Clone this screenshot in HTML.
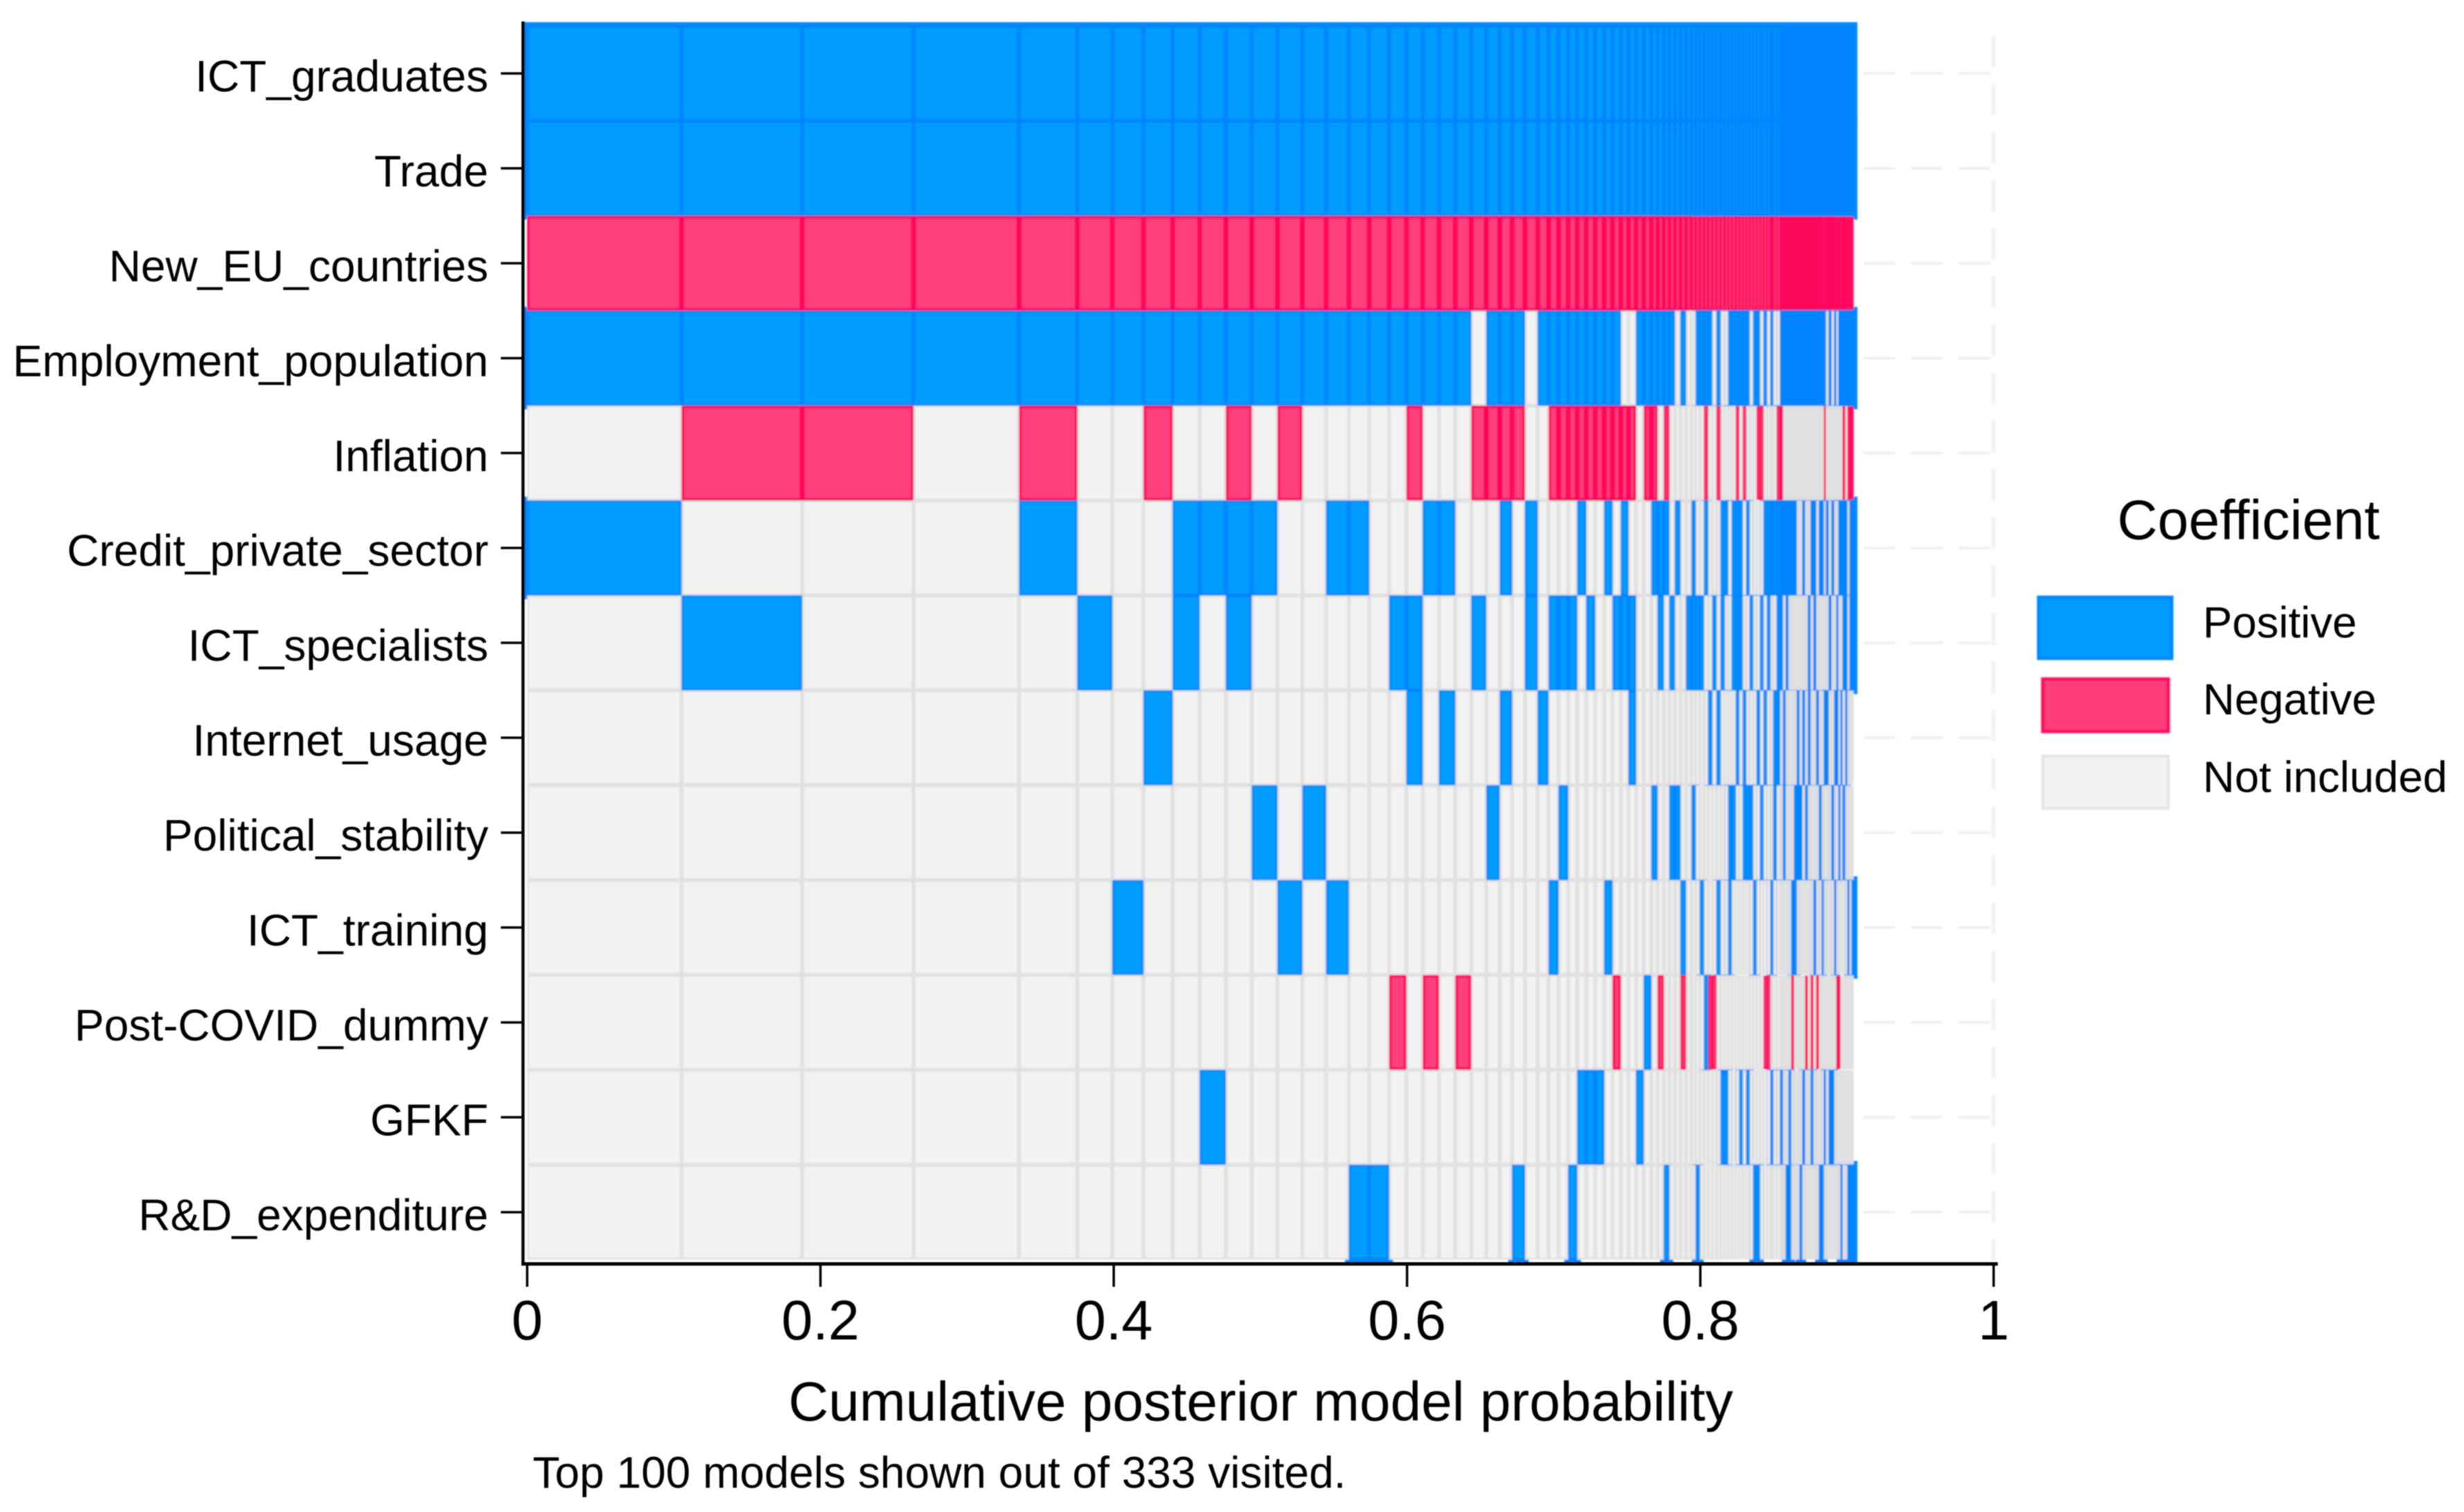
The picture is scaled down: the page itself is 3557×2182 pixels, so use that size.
<!DOCTYPE html>
<html lang="en">
<head>
<meta charset="utf-8">
<title>Cumulative posterior model probability</title>
<style>
  html, body { margin: 0; padding: 0; background: #fff; }
  svg { display: block; font-family: "Liberation Sans", Arial, sans-serif; fill: #000; }
</style>
</head>
<body>
<svg id="chart" xmlns="http://www.w3.org/2000/svg" width="3557" height="2182" viewBox="0 0 3557 2182">
  <defs>
    <filter id="soft" filterUnits="userSpaceOnUse" x="0" y="0" width="3557" height="2182"><feGaussianBlur stdDeviation="1.0"/></filter>
    <filter id="softText" filterUnits="userSpaceOnUse" x="0" y="0" width="3557" height="2182"><feGaussianBlur stdDeviation="0.7"/></filter>
  </defs>
  <rect width="3557" height="2182" fill="#ffffff"/>
  <g id="ghostGrid" filter="url(#soft)"></g>
  <g id="cells" filter="url(#soft)"></g>
  <g id="axes" filter="url(#softText)"></g>
  <g filter="url(#softText)">
    <text x="1820" y="2050" font-size="80.2" text-anchor="middle">Cumulative posterior model probability</text>
    <text x="769" y="2147" font-size="64">Top 100 models shown out of 333 visited.</text>
    <text x="3246" y="778" font-size="80.5" text-anchor="middle">Coefficient</text>
    <text x="3180" y="920" font-size="63.5">Positive</text>
    <text x="3180" y="1031" font-size="63.5">Negative</text>
    <text x="3180" y="1143" font-size="63.5">Not included</text>
  </g>
  <g filter="url(#soft)">
    <rect x="2943" y="862" width="192" height="88" fill="#009BFF" stroke="#0086FF" stroke-width="5"/>
    <rect x="2949" y="980" width="181" height="75.5" fill="#FF3D7A" stroke="#FF0A5C" stroke-width="5"/>
    <rect x="2949" y="1091" width="181" height="75.5" fill="#F2F2F2" stroke="#E3E3E3" stroke-width="4"/>
  </g>
</svg>
<script>
// Posterior probability of each of the top 100 models (rank order)
const modelProb = [
  0.1053,0.0822,0.0759,0.0720,0.0397,0.0239,0.0213,0.0199,0.0184,0.0178,
  0.0177,0.0175,0.0170,0.0162,0.0155,0.0139,0.0136,0.0118,0.0111,0.0111,
  0.0111,0.0109,0.0102,0.0092,0.0084,0.0088,0.0087,0.0074,0.0068,0.0066,
  0.00614,0.00614,0.00614,0.00614,0.00567,0.00567,0.0052,0.0052,0.0052,0.0052,
  0.00425,0.00425,0.00378,0.00378,0.00378,0.00378,0.00378,0.00283,0.00283,0.00283,
  0.00283,0.00283,0.00283,0.00283,0.00283,0.00236,0.00236,0.00283,0.00236,0.00236,
  0.00236,0.00236,0.00236,0.00236,0.00236,0.00236,0.00236,0.00236,0.00189,0.00236,
  0.00236,0.00189,0.00189,0.00189,0.00189,0.00189,0.00189,0.00189,0.00189,0.00189,
  0.00189,0.00189,0.00189,0.00189,0.00189,0.00189,0.00142,0.00142,0.00189,0.00189,
  0.00189,0.00142,0.00142,0.00142,0.00142,0.00189,0.00142,0.00142,0.00142,0.00142
];

const variables = ["ICT_graduates","Trade","New_EU_countries","Employment_population","Inflation","Credit_private_sector","ICT_specialists","Internet_usage","Political_stability","ICT_training","Post-COVID_dummy","GFKF","R&D_expenditure"];

const xTicks = [0, 0.2, 0.4, 0.6, 0.8, 1];
const xTickLabels = ["0", "0.2", "0.4", "0.6", "0.8", "1"];

// Model ranks in which each variable enters with a positive coefficient
const ictGraduatesPos = [1,2,3,4,5,6,7,8,9,10,11,12,13,14,15,16,17,18,19,20,21,22,23,24,25,26,27,28,29,30,31,32,33,34,35,36,37,38,39,40,41,42,43,44,45,46,47,48,49,50,51,52,53,54,55,56,57,58,59,60,61,62,63,64,65,66,67,68,69,70,71,72,73,74,75,76,77,78,79,80,81,82,83,84,85,86,87,88,89,90,91,92,93,94,95,96,97,98,99,100];
const tradePos = [1,2,3,4,5,6,7,8,9,10,11,12,13,14,15,16,17,18,19,20,21,22,23,24,25,26,27,28,29,30,31,32,33,34,35,36,37,38,39,40,41,42,43,44,45,46,47,48,49,50,51,52,53,54,55,56,57,58,59,60,61,62,63,64,65,66,67,68,69,70,71,72,73,74,75,76,77,78,79,80,81,82,83,84,85,86,87,88,89,90,91,92,93,94,95,96,97,98,99,100];
const newEuPos = [];
const employmentPos = [1,2,3,4,5,6,7,8,9,10,11,12,13,14,15,16,17,18,19,20,21,22,24,25,26,28,29,30,31,32,33,34,35,36,39,40,41,42,43,44,46,49,50,51,52,54,57,58,59,60,61,62,64,65,67,69,72,73,74,75,76,77,78,79,80,81,82,83,84,85,86,87,88,90,92,94,95,96,97,98,99,100];
const inflationPos = [];
const creditPos = [1,5,9,10,11,12,15,16,20,21,25,27,32,35,37,41,42,43,45,48,51,55,56,58,59,60,62,67,68,69,70,71,72,73,74,75,76,77,80,83,84,86,87,89,91,94,95,96,97,99,100];
const ictSpecialistsPos = [2,6,9,11,18,19,23,27,29,30,31,33,36,37,38,42,44,47,48,49,50,53,55,58,59,60,63,66,68,71,72,74,82,84,90,93,96,97,99,100];
const internetPos = [8,19,21,25,28,38,52,54,59,61,65,67,70,71,73,78,80,82,85,88,89,92,93,95,97];
const politicalPos = [12,14,24,30,41,44,45,48,57,58,61,62,63,66,70,73,77,78,79,81,86,91,94,96];
const ictTrainingPos = [7,13,15,29,35,46,50,54,57,64,69,76,77,84,87,92,98,100];
const postCovidPos = [40,51];
const gfkfPos = [10,32,33,34,39,55,56,60,62,69,72,75,80,83,88,90,91];
const rdPos = [16,17,26,31,43,49,64,65,74,75,79,86,87,95,98,99,100];

// Model ranks in which each variable enters with a negative coefficient
const newEuNeg = [1,2,3,4,5,6,7,8,9,10,11,12,13,14,15,16,17,18,19,20,21,22,23,24,25,26,27,28,29,30,31,32,33,34,35,36,37,38,39,40,41,42,43,44,45,46,47,48,49,50,51,52,53,54,55,56,57,58,59,60,61,62,63,64,65,66,67,68,69,70,71,72,73,74,75,76,77,78,79,80,81,82,83,84,85,86,87,88,89,90,91,92,93,94,95,96,97,98,99,100];
const inflationNeg = [2,3,5,8,11,13,19,23,24,25,26,29,30,31,32,33,34,35,36,37,38,40,41,43,51,54,59,61,65,66,71,72,88,96,98,99,100];
const postCovidNeg = [18,20,22,36,42,46,52,53,67,68,76,81,83,85,93,94];

const positiveByVariable = [ictGraduatesPos,tradePos,newEuPos,employmentPos,inflationPos,creditPos,ictSpecialistsPos,internetPos,politicalPos,ictTrainingPos,postCovidPos,gfkfPos,rdPos];
const negativeByVariable = [[],[],newEuNeg,[],inflationNeg,[],[],[],[],[],postCovidNeg,[],[]];

const NS = "http://www.w3.org/2000/svg";
function mk(tag, attrs, parent) {
  const el = document.createElementNS(NS, tag);
  for (const k in attrs) el.setAttribute(k, attrs[k]);
  parent.appendChild(el);
  return el;
}
const xScale = p => 761 + 2117 * p;
const bandTop = i => 37.5 + 136.95 * i;
const bandH = 136.95;
const bandMid = i => bandTop(i) + bandH / 2;

const cellsG = document.getElementById("cells");
const axesG = document.getElementById("axes");
const ghostG = document.getElementById("ghostGrid");

const underLayer = mk("g", {}, cellsG);
const greyLayer = mk("g", {}, cellsG);
const pinkLayer = mk("g", {}, cellsG);
const blueLayer = mk("g", {}, cellsG);

const styles = {
  "1": { fill: "#009CFF", stroke: "#0084FF", sw: 2.7, layer: blueLayer },
  "-1": { fill: "#FF3F7C", stroke: "#FF0558", sw: 3.6, layer: pinkLayer },
  "0": { fill: "#F2F2F2", stroke: "#E0E0E0", sw: 2.7, layer: greyLayer }
};

variables.forEach(function (name, r) {
  let cum = 0;
  modelProb.forEach(function (prob, m) {
    const rank = m + 1;
    const x0 = xScale(cum);
    const x1 = xScale(cum + prob);
    cum += prob;
    const sign = positiveByVariable[r].includes(rank) ? 1 : (negativeByVariable[r].includes(rank) ? -1 : 0);
    const st = styles[String(sign)];
    const y0 = bandTop(r);
    const w = x1 - x0;
    const sw = Math.min(st.sw, w >= 4.5 ? w * 0.36 : w / 2);
    if (sign === 1) {
      const halo = mk("rect", { x: x0, y: y0, width: w, height: bandH, fill: "none", stroke: "#0086FF", "stroke-width": 11 }, underLayer);
      
      
    }
    const cell = mk("rect", {
      x: x0 + sw / 2, y: y0 + st.sw / 2,
      width: Math.max(w - sw, 0.01), height: bandH - st.sw,
      fill: st.fill, stroke: st.stroke, "stroke-width": sw
    }, st.layer);
    
    
  });

  // faint dashed grid continuation at each variable row
  const ghost = mk("line", { x1: 2690, x2: xScale(1), y1: bandMid(r), y2: bandMid(r), stroke: "#EFEFEF", "stroke-width": 4, "stroke-dasharray": "46 22.5" }, ghostG);
  
  

  const tick = mk("line", { x1: 723, x2: 754, y1: bandMid(r), y2: bandMid(r), stroke: "#000", "stroke-width": 3.5 }, axesG);
  
  

  const label = mk("text", { x: 705, y: bandMid(r) + 26, "font-size": 64, "text-anchor": "end" }, axesG);
  label.textContent = name;
  
  
});

const ghostV = mk("line", { x1: xScale(1), x2: xScale(1), y1: 51, y2: 1820, stroke: "#F3F3F3", "stroke-width": 6.5, "stroke-dasharray": "46 23.5" }, ghostG);



const yAxis = mk("line", { x1: 755, x2: 755, y1: 31, y2: 1826.5, stroke: "#000", "stroke-width": 4.5 }, axesG);



const xAxis = mk("line", { x1: 752.8, x2: 2884, y1: 1824, y2: 1824, stroke: "#000", "stroke-width": 5 }, axesG);



xTicks.forEach(function (v, i) {
  const t = mk("line", { x1: xScale(v), x2: xScale(v), y1: 1824, y2: 1857, stroke: "#000", "stroke-width": 3.5 }, axesG);
  
  
  const tl = mk("text", { x: xScale(v), y: 1933, "font-size": 81, "text-anchor": "middle" }, axesG);
  tl.textContent = xTickLabels[i];
  
  
});
</script>
</body>
</html>
